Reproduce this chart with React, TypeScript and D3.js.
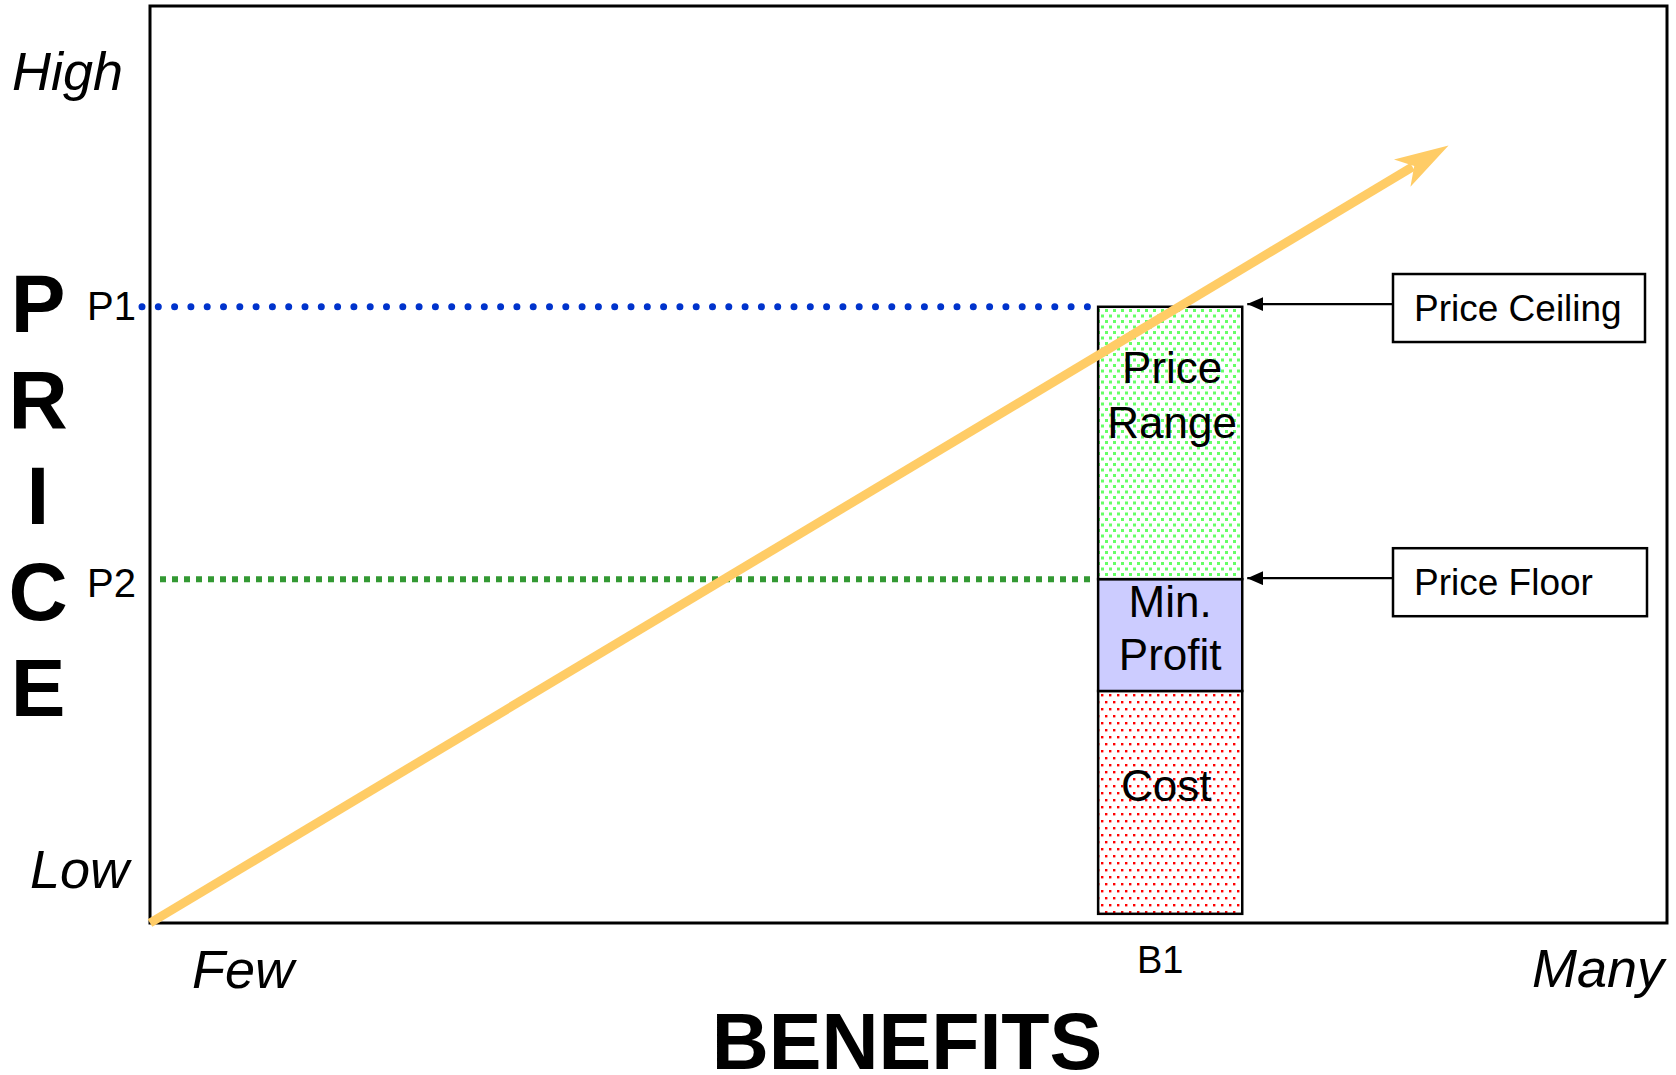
import React from 'react'
import * as d3 from 'd3'

const WIDTH = 1676
const HEIGHT = 1075
const FRAME = { left: 150, top: 6, right: 1667, bottom: 923 }
const FONT = '"Liberation Sans", Arial, Helvetica, sans-serif'

// price / benefit units, both axes run 0..100
const priceAxisLetters = ['P', 'R', 'I', 'C', 'E']
const segmentNames = ['Cost', 'Min. Profit', 'Price Range']
const segmentLines = [['Cost'], ['Min.', 'Profit'], ['Price', 'Range']]
const segmentBase = [1, 25.3, 37.5]
const segmentTop = [25.3, 37.5, 67.2]
const segmentFill = ['url(#redDots)', '#ccccff', 'url(#greenDots)']
const benefitB1 = [62.5, 72]
const priceMarks = ['P1', 'P2']
const priceMarkValues = [67.2, 37.5]
const priceMarkColors = ['#0033cc', '#339933']
const callouts = ['Price Ceiling', 'Price Floor']
const calloutValues = [67.5, 37.6]
const trendFrom = [0, 0]
const trendTo = [85.6, 84.8]

export default function App() {
  const x = d3.scaleLinear().domain([0, 100]).range([FRAME.left, FRAME.right])
  const y = d3.scaleLinear().domain([0, 100]).range([FRAME.bottom, FRAME.top])

  const barX0 = x(benefitB1[0])
  const barX1 = x(benefitB1[1])
  const barMid = (barX0 + barX1) / 2

  // trend arrow with notched head
  const x0 = x(trendFrom[0]), y0 = y(trendFrom[1])
  const x1 = x(trendTo[0]), y1 = y(trendTo[1])
  const len = Math.hypot(x1 - x0, y1 - y0)
  const ux = (x1 - x0) / len, uy = (y1 - y0) / len
  const nx = -uy, ny = ux
  const headLen = 54, headHalf = 16, notch = 40
  const head = [
    [x1, y1],
    [x1 - ux * headLen + nx * headHalf, y1 - uy * headLen + ny * headHalf],
    [x1 - ux * notch, y1 - uy * notch],
    [x1 - ux * headLen - nx * headHalf, y1 - uy * headLen - ny * headHalf],
  ]
  const headPath = d3.line()(head as [number, number][]) + 'Z'

  const lineOffsets = [[110], [38, 91], [76, 131]]
  const lineShift = [-4, 0, 2]
  const markStart = [-8, 10]
  const markText = [320, 597]

  const boxX = 1393
  const boxW = [252, 254]
  const boxH = 68

  return (
    <svg width={WIDTH} height={HEIGHT} style={{ position: 'absolute', left: 0, top: 0, background: '#fff' }}
      fontFamily={FONT}>
      <defs>
        <pattern id="greenDots" patternUnits="userSpaceOnUse" width={8} height={11}>
          <rect width={8} height={11} fill="#fff" />
          <rect x={1} y={1} width={3} height={3} fill="#66ff66" />
          <rect x={5} y={6.5} width={3} height={3} fill="#66ff66" />
        </pattern>
        <pattern id="redDots" patternUnits="userSpaceOnUse" width={8} height={14}>
          <rect width={8} height={14} fill="#fff" />
          <rect x={1} y={1} width={2.4} height={2.4} fill="#ff0000" />
          <rect x={5} y={8} width={2.4} height={2.4} fill="#ff0000" />
        </pattern>
        <marker id="blackHead" viewBox="0 0 16 14" refX={16} refY={7} markerWidth={16} markerHeight={14}
          markerUnits="userSpaceOnUse" orient="auto">
          <path d="M0,0 L16,7 L0,14 Z" fill="#000" />
        </marker>
      </defs>

      {/* frame */}
      <rect x={FRAME.left} y={FRAME.top} width={FRAME.right - FRAME.left} height={FRAME.bottom - FRAME.top}
        fill="none" stroke="#000" strokeWidth={3} />

      {/* stacked bar at B1 */}
      {segmentNames.map((name, i) => (
        <rect key={name} x={barX0} y={y(segmentTop[i])} width={barX1 - barX0}
          height={y(segmentBase[i]) - y(segmentTop[i])} fill={segmentFill[i]} stroke="#000" strokeWidth={2.5} />
      ))}

      {/* price marks */}
      {priceMarks.map((m, i) => (
        <g key={m}>
          <line x1={x(0) + markStart[i]} x2={barX0 - 3} y1={y(priceMarkValues[i])} y2={y(priceMarkValues[i])}
            stroke={priceMarkColors[i]} strokeWidth={i === 0 ? 7 : 6}
            strokeDasharray={i === 0 ? '0 16.3' : '6 6'} strokeLinecap={i === 0 ? 'round' : 'butt'} />
          <text x={87} y={markText[i]} fontSize={40} fill="#000">{m}</text>
        </g>
      ))}

      {/* trend arrow */}
      <line x1={x0} y1={y0} x2={x1 - ux * (notch + 2)} y2={y1 - uy * (notch + 2)}
        stroke="#ffcc66" strokeWidth={9} />
      <path d={headPath} fill="#ffcc66" />

      {/* segment labels */}
      {segmentNames.map((name, i) => segmentLines[i].map((t, j) => (
        <text key={name + j} x={barMid + lineShift[i]} y={y(segmentTop[i]) + lineOffsets[i][j]} fontSize={44}
          textAnchor="middle" fill="#000">{t}</text>
      )))}

      {/* callouts */}
      {callouts.map((c, i) => {
        const cy = y(calloutValues[i])
        return (
          <g key={c}>
            <line x1={boxX} x2={barX1 + 5} y1={cy} y2={cy} stroke="#000" strokeWidth={2.2}
              markerEnd="url(#blackHead)" />
            <rect x={boxX} y={cy - boxH / 2 + 4} width={boxW[i]} height={boxH} fill="#fff" stroke="#000"
              strokeWidth={2.5} />
            <text x={boxX + 21} y={cy + 17} fontSize={37} fill="#000">{c}</text>
          </g>
        )
      })}

      {/* axis words */}
      <text x={12} y={90} fontSize={54} fontStyle="italic">High</text>
      <text x={129} y={888} fontSize={54} fontStyle="italic" textAnchor="end">Low</text>
      <text x={192} y={988} fontSize={54} fontStyle="italic">Few</text>
      <text x={1664} y={987} fontSize={54} fontStyle="italic" textAnchor="end">Many</text>
      <text x={1137} y={973} fontSize={38}>B1</text>

      {priceAxisLetters.map((l, i) => (
        <text key={l} x={38} y={332 + i * 96} fontSize={82} fontWeight="bold" textAnchor="middle">{l}</text>
      ))}
      <text x={907} y={1069} fontSize={79} fontWeight="bold" textAnchor="middle">BENEFITS</text>
    </svg>
  )
}
